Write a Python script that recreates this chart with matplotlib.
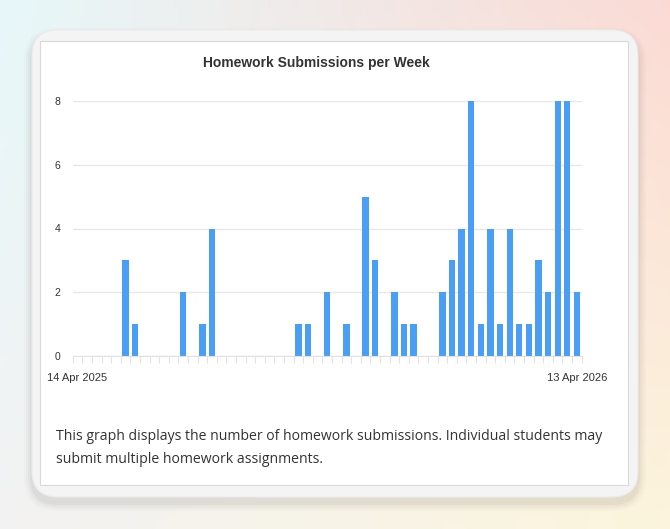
import numpy as np
import matplotlib
matplotlib.use("Agg")
import matplotlib.pyplot as plt
from matplotlib.patches import FancyBboxPatch, Rectangle

# weekly submission counts, 14 Apr 2025 .. 13 Apr 2026 (53 weeks)
counts = [0, 0, 0, 0, 0, 3, 1, 0, 0, 0, 0, 2, 0, 1, 4, 0,
          0, 0, 0, 0, 0, 0, 0, 1, 1, 0, 2, 0, 1, 0, 5, 3,
          0, 2, 1, 1, 0, 0, 2, 3, 4, 8, 1, 4, 1, 4, 1, 1,
          3, 2, 8, 8, 2]
first_label = "14 Apr 2025"
last_label = "13 Apr 2026"
y_ticks = [0, 2, 4, 6, 8]
title = "Homework Submissions per Week"
caption = ("This graph displays the number of homework submissions. Individual students may\n"
           "submit multiple homework assignments.")

W, H = 670, 529
fig = plt.figure(figsize=(W / 100, H / 100), dpi=100)

# page background: four corner gradient
bg = fig.add_axes([0, 0, 1, 1])
bg.set_axis_off()
tl = np.array([228, 248, 251]) / 255
tr = np.array([252, 214, 207]) / 255
bl = np.array([242, 242, 242]) / 255
br = np.array([253, 245, 216]) / 255
u = np.linspace(0, 1, 200)[None, :, None]
v = np.linspace(0, 1, 160)[:, None, None]
grad = (1 - v) * ((1 - u) * tl + u * tr) + v * ((1 - u) * bl + u * br)
grad = grad * 0.85 + 0.15 * np.array([0.97, 0.96, 0.96])
bg.imshow(grad, extent=[0, W, H, 0], aspect="auto")
bg.set_xlim(0, W)
bg.set_ylim(H, 0)

# card shadow + card
for i, a in enumerate([0.015, 0.02, 0.025, 0.03]):
    pad = 8 - 2 * i
    bg.add_patch(FancyBboxPatch((32 - pad, 30 - pad + 6), 606 + 2 * pad, 467 + 2 * pad,
                                boxstyle="round,pad=0,rounding_size=%d" % (26 + pad),
                                fc="black", ec="none", alpha=a))
bg.add_patch(FancyBboxPatch((32, 30), 606, 467, boxstyle="round,pad=0,rounding_size=26",
                            fc="#f4f4f4", ec="#ebebeb", lw=0.8))
bg.add_patch(Rectangle((40, 41), 588, 444, fc="white", ec="#d9d9d9", lw=0.8))

# chart
x0, x1, ytop, ybot = 72.7, 581.7, 101, 356
ax = fig.add_axes([x0 / W, 1 - ybot / H, (x1 - x0) / W, (ybot - ytop) / H])
ax.set_facecolor("none")
x = np.arange(len(counts))
ax.bar(x, counts, width=0.66, color="#4a9ff5", edgecolor="none", zorder=3)
ax.set_xlim(-0.5, len(counts) - 0.5)
ax.set_ylim(0, 8)
ax.set_yticks(y_ticks)
ax.set_yticklabels([str(t) for t in y_ticks], fontsize=7.5, color="#333333",
                   family="Liberation Sans")
ax.tick_params(axis="y", length=0, pad=9)
ax.grid(axis="y", color="#e8e8e8", lw=1, zorder=0)
for s in ["top", "right", "left"]:
    ax.spines[s].set_visible(False)
ax.spines["bottom"].set_color("#e2e2e2")
ax.spines["bottom"].set_zorder(4)

# tick marks at week boundaries
ax.set_xticks(np.arange(len(counts) + 1) - 0.5, minor=True)
ax.tick_params(axis="x", which="minor", length=5, color="#e2e2e2", width=0.8)
ax.set_xticks([0, len(counts) - 1])
ax.set_xticklabels([first_label, last_label], fontsize=8, color="#333333",
                   family="Liberation Sans")
ax.tick_params(axis="x", which="major", length=0, pad=12)

fig.text(316 / W, 1 - 63 / H, title, ha="center", va="center", fontsize=10,
         fontweight="bold", color="#333333", family="Liberation Sans")
fig.text(56 / W, 1 - 448 / H, caption, ha="left", va="center", fontsize=10.1,
         color="#333333", family="Open Sans", linespacing=1.65)

fig.savefig("out.png", dpi=100)
